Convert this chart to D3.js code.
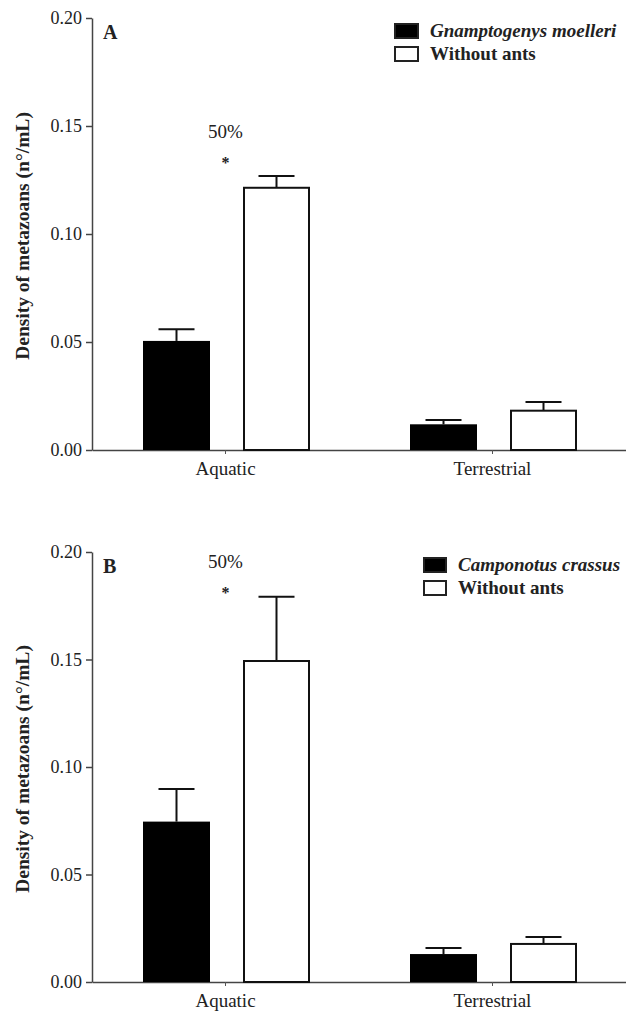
<!DOCTYPE html>
<html>
<head>
<meta charset="utf-8">
<script src="https://cdn.jsdelivr.net/npm/d3@7"></script>
<style>
  body { margin: 0; background: #fff; }
  text { font-family: "Liberation Serif", "Times New Roman", serif; fill: #222; }
</style>
</head>
<body>
<div id="chart"></div>
<script>
// data
var categories = ["Aquatic", "Terrestrial"];
var yTicks = [0, 0.05, 0.10, 0.15, 0.20];

var seriesA = ["Gnamptogenys moelleri", "Without ants"];
var antMeansA = [0.0505, 0.0119];
var antErrA = [0.0054, 0.0020];
var noAntMeansA = [0.1214, 0.0182];
var noAntErrA = [0.0055, 0.0040];

var seriesB = ["Camponotus crassus", "Without ants"];
var antMeansB = [0.0746, 0.0130];
var antErrB = [0.0152, 0.0028];
var noAntMeansB = [0.1493, 0.0177];
var noAntErrB = [0.0299, 0.0032];

var noteLabels = ["50%", ""];   // above the Aquatic pair
var starLabels = ["*", ""];

var svg = d3.select("#chart")
  .append("svg")
  .attr("width", 626)
  .attr("height", 1016);

function drawPanel(p) {
  var g = svg.append("g");

  var y = d3.scaleLinear().domain([0, 0.2]).range([p.y0, p.yTop]);
  var x0 = d3.scaleBand().domain(categories).range([92, 626]);
  var x1 = d3.scaleBand().domain([0, 1]).range([51, 218]).paddingInner(0.33);

  // y axis
  var yAxis = g.append("g")
    .attr("transform", "translate(92,0)")
    .call(d3.axisLeft(y).tickValues(yTicks).tickFormat(d3.format(".2f"))
      .tickSize(6).tickSizeOuter(0).tickPadding(4));
  yAxis.selectAll("text").style("font-size", "18px").attr("fill", "#333");
  yAxis.selectAll("line").attr("stroke", "#444").attr("stroke-width", 1.5);
  yAxis.select(".domain").attr("stroke", "#444").attr("stroke-width", 1.5);

  // x axis
  var xAxis = g.append("g")
    .attr("transform", "translate(0," + p.y0 + ")")
    .call(d3.axisBottom(x0).tickSize(4).tickSizeOuter(0).tickPadding(8));
  xAxis.selectAll("text").style("font-size", "19px").attr("fill", "#333");
  xAxis.selectAll("line").attr("stroke", "#555").attr("stroke-width", 1);
  xAxis.select(".domain").attr("stroke", "#444").attr("stroke-width", 1.5);

  var rows = categories.map(function(c, i) {
    return [
      { cat: c, s: 0, v: p.ant[i], e: p.antErr[i] },
      { cat: c, s: 1, v: p.noAnt[i], e: p.noAntErr[i] }
    ];
  });
  var flat = d3.merge(rows);

  var bars = g.selectAll(".bar" + p.name)
    .data(flat)
    .enter()
    .append("g")
    .attr("transform", d => "translate(" + (x0(d.cat) + x1(d.s)) + ",0)");

  // error bars first so bar outline covers the base
  bars.append("line")
    .attr("x1", x1.bandwidth() / 2)
    .attr("x2", x1.bandwidth() / 2)
    .attr("y1", d => y(d.v))
    .attr("y2", d => y(d.v + d.e))
    .attr("stroke", "#111")
    .attr("stroke-width", 2);
  bars.append("line")
    .attr("x1", x1.bandwidth() / 2 - 18)
    .attr("x2", x1.bandwidth() / 2 + 18)
    .attr("y1", d => y(d.v + d.e))
    .attr("y2", d => y(d.v + d.e))
    .attr("stroke", "#111")
    .attr("stroke-width", 2);

  bars.append("rect")
    .attr("x", d => d.s == 0 ? 0 : 1)
    .attr("y", d => y(d.v))
    .attr("width", d => d.s == 0 ? x1.bandwidth() : x1.bandwidth() - 2)
    .attr("height", d => y(0) - y(d.v))
    .attr("fill", d => d.s == 0 ? "#000" : "#fff")
    .attr("stroke", "#111")
    .attr("stroke-width", d => d.s == 0 ? 0 : 2);

  // panel letter
  g.append("text")
    .attr("x", 103)
    .attr("y", p.yTop + 21)
    .style("font-size", "20px")
    .style("font-weight", "bold")
    .text(p.name);

  // significance note
  categories.forEach(function(c, i) {
    var cx = x0(c) + x0.bandwidth() / 2;
    g.append("text")
      .attr("x", cx)
      .attr("y", p.noteY)
      .attr("text-anchor", "middle")
      .style("font-size", "19px")
      .attr("fill", "#333")
      .text(noteLabels[i]);
    g.append("text")
      .attr("x", cx)
      .attr("y", p.noteY + 30)
      .attr("text-anchor", "middle")
      .style("font-size", "16px")
      .style("font-weight", "bold")
      .text(starLabels[i]);
  });

  // y label
  g.append("text")
    .attr("transform", "translate(29," + ((p.y0 + p.yTop) / 2 + 2) + ") rotate(-90)")
    .attr("text-anchor", "middle")
    .style("font-size", "19.5px")
    .style("font-weight", "bold")
    .text("Density of metazoans (n°/mL)");

  // legend
  var leg = g.append("g")
    .attr("transform", "translate(" + p.legX + "," + p.legY + ")");
  p.series.forEach(function(s, i) {
    leg.append("rect")
      .attr("x", 1)
      .attr("y", i * 23 + 1)
      .attr("width", p.sw - 2)
      .attr("height", 14)
      .attr("fill", i == 0 ? "#000" : "#fff")
      .attr("stroke", "#222")
      .attr("stroke-width", 2);
    leg.append("text")
      .attr("x", p.sw + 11)
      .attr("y", i * 23 + 14)
      .style("font-size", "19px")
      .style("font-weight", "bold")
      .style("font-style", i == 0 ? "italic" : "normal")
      .text(s);
  });
}

drawPanel({
  name: "A", y0: 450, yTop: 18,
  ant: antMeansA, antErr: antErrA, noAnt: noAntMeansA, noAntErr: noAntErrA,
  series: seriesA, legX: 394, legY: 23, sw: 25, noteY: 138
});

drawPanel({
  name: "B", y0: 982, yTop: 552,
  ant: antMeansB, antErr: antErrB, noAnt: noAntMeansB, noAntErr: noAntErrB,
  series: seriesB, legX: 423, legY: 557, sw: 24, noteY: 568
});
</script>
</body>
</html>
